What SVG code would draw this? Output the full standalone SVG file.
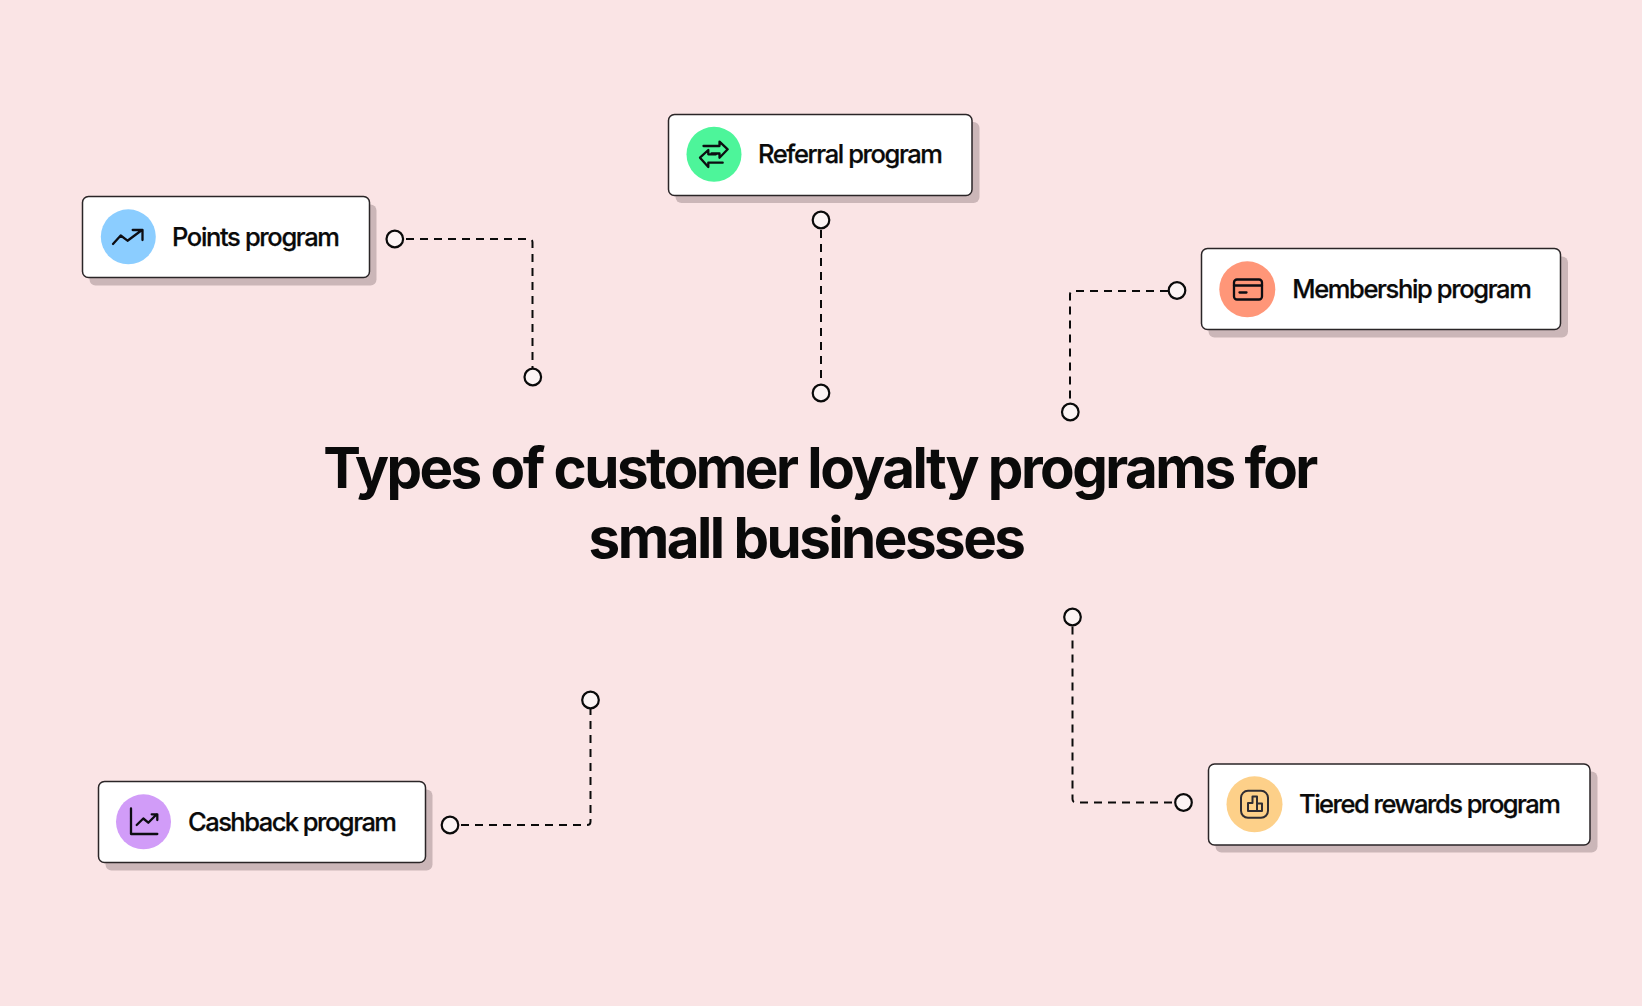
<svg xmlns="http://www.w3.org/2000/svg" width="1642" height="1006" viewBox="0 0 1642 1006">
<style>
.card{fill:#fff;stroke:#2a2527;stroke-width:1.5}
.shadow{fill:#cbb6b8}
.label{font-family:"Inter","Liberation Sans",sans-serif;font-size:25.5px;font-weight:500;fill:#0a0a0a;stroke:#0a0a0a;stroke-width:0.25}
.title{font-family:"Inter","Liberation Sans",sans-serif;font-size:56.5px;font-weight:700;fill:#0a0a0a;letter-spacing:-2.52px;text-anchor:middle}
.icon{fill:none;stroke:#0d0d12;stroke-width:2.3;stroke-linecap:round;stroke-linejoin:round}
.thin{stroke:#2f2c33;stroke-width:2}
.dash{fill:none;stroke:#0a0a0a;stroke-width:2;stroke-dasharray:8 6}
.dot{fill:#fcf4f4;stroke:#0a0a0a;stroke-width:2.2}
</style>
<rect width="1642" height="1006" fill="#fae4e5"/>
<g id="connectors">
<path class="dash" d="M406 239H529Q532.500 239 532.500 242.500V369"/>
<path class="dash" d="M821 230V385"/>
<path class="dash" d="M1168 291H1073.500Q1070 291 1070 294.500V403"/>
<path class="dash" d="M461 825H587Q590.500 825 590.500 821.500V709"/>
<path class="dash" d="M1172 802.500H1076Q1072.500 802.500 1072.500 799V626"/>
<circle class="dot" cx="394.800" cy="239" r="8.300"/>
<circle class="dot" cx="532.800" cy="377" r="8.300"/>
<circle class="dot" cx="821" cy="220" r="8.300"/>
<circle class="dot" cx="821" cy="393" r="8.300"/>
<circle class="dot" cx="1177" cy="290.500" r="8.300"/>
<circle class="dot" cx="1070.300" cy="412" r="8.300"/>
<circle class="dot" cx="450" cy="825" r="8.300"/>
<circle class="dot" cx="590.500" cy="700" r="8.300"/>
<circle class="dot" cx="1183.500" cy="802.500" r="8.300"/>
<circle class="dot" cx="1072.500" cy="617" r="8.300"/>
</g>
<g id="node-points">
<rect class="shadow" x="89.500" y="204.500" width="287" height="81" rx="6"/>
<rect class="card" x="82.500" y="196.500" width="287" height="81" rx="6"/>
<circle cx="128.300" cy="236.800" r="27.500" fill="#8bcdff"/>
<path class="icon" d="M113 244L120.700 235.500L127.500 240.700L142 230M132.700 230H142.500V240"/>
<text class="label" x="172" y="245.500" textLength="168">Points program</text>
</g>
<g id="node-referral">
<rect class="shadow" x="675.500" y="122" width="304" height="81" rx="6"/>
<rect class="card" x="668.500" y="114.500" width="303.500" height="81" rx="6"/>
<circle cx="714" cy="154.300" r="27.500" fill="#4df59a"/>
<path class="icon" d="M703.500 146H719.500V141.700L727.700 149.300L719.500 157.700V153.500H711.500M722.700 162.700H708.300V167L700 157.700L708.300 150V154.300H716"/>
<text class="label" x="758" y="162.500" textLength="185">Referral program</text>
</g>
<g id="node-membership">
<rect class="shadow" x="1208.500" y="256.500" width="359.500" height="81" rx="6"/>
<rect class="card" x="1201.500" y="248.500" width="359" height="81" rx="6"/>
<circle cx="1247.300" cy="289.300" r="28" fill="#ff9678"/>
<rect class="icon" x="1234" y="279.500" width="28" height="20" rx="3"/>
<path class="icon" d="M1234 285.500H1262M1239.500 292.500H1246.500"/>
<text class="label" x="1292.300" y="297.500" textLength="239.500">Membership program</text>
</g>
<g id="node-cashback">
<rect class="shadow" x="105.500" y="789.500" width="327" height="81" rx="6"/>
<rect class="card" x="98.500" y="781.500" width="327" height="81" rx="6"/>
<circle cx="143.500" cy="821.800" r="27.500" fill="#d19cf8"/>
<path class="icon" d="M131 808.500V834H157.300M136.700 825L143.300 818.500L148.300 822.700L156.700 814.300M151.700 814.300H157.300V820"/>
<text class="label" x="188" y="830.500" textLength="209">Cashback program</text>
</g>
<g id="node-tiered">
<rect class="shadow" x="1215.500" y="771.500" width="382" height="81" rx="6"/>
<rect class="card" x="1208.500" y="764" width="381.500" height="81" rx="6"/>
<circle cx="1254.500" cy="804.300" r="28" fill="#fdd089"/>
<rect class="icon thin" x="1241" y="790.800" width="27" height="27" rx="7"/>
<path class="icon thin" d="M1248 811V803H1252.500V796.500H1257V811ZM1257 803.500H1262V811H1257"/>
<text class="label" x="1299" y="812.500" textLength="262">Tiered rewards program</text>
</g>
<g id="title">
<text class="title" x="819.500" y="488">Types of customer loyalty programs for</text>
<text class="title" x="806" y="558">small businesses</text>
</g>
</svg>
